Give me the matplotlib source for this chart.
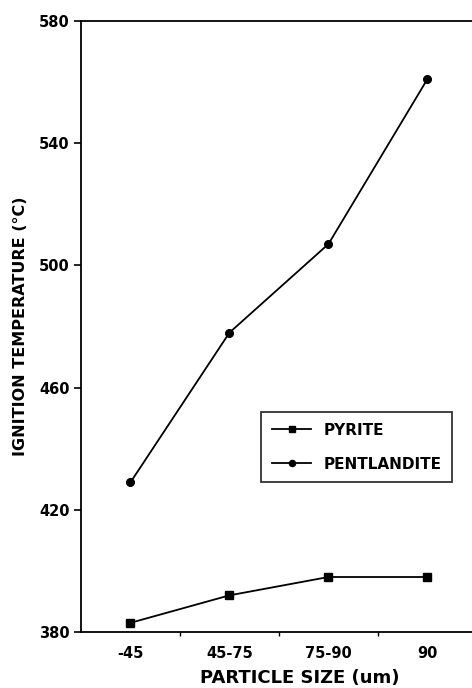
import matplotlib.pyplot as plt

# -----------------------------
# Data
# -----------------------------
sizes = ["-45", "45-75", "75-90", "90"]
pyrite = [383, 392, 398, 398]
pentlandite = [429, 478, 507, 561]

yticks = [380, 420, 460, 500, 540, 580]

plt.rcParams['font.family'] = ['DejaVu Sans']
plt.rcParams['font.weight'] = 'bold'

fig = plt.figure(figsize=(4.72, 6.88), dpi=100)
ax = fig.add_axes([81 / 472, 56 / 688, 391 / 472, 611 / 688])

x = list(range(len(sizes)))
ax.plot(x, pyrite, color='black', lw=1.3, marker='s', ms=5.5, label='PYRITE')
ax.plot(x, pentlandite, color='black', lw=1.3, marker='o', ms=5.5, label='PENTLANDITE')

ax.set_xlim(-0.5, 3.45)
ax.set_ylim(380, 580)

# y axis
ax.set_yticks(yticks)
ax.tick_params(axis='y', direction='out', length=5, width=1.2, labelsize=10.5, pad=3)

# x axis: labels at centres, small ticks between groups
ax.set_xticks(x)
ax.set_xticklabels(sizes)
ax.set_xticks([0.5, 1.5, 2.5], minor=True)
ax.tick_params(axis='x', which='major', length=0, labelsize=10.5, pad=10)
ax.tick_params(axis='x', which='minor', direction='out', length=3, width=1)

for s in ['left', 'top', 'bottom']:
    ax.spines[s].set_linewidth(1.3)
ax.spines['right'].set_visible(False)

ax.set_xlabel("PARTICLE SIZE (um)", fontsize=13, fontweight='bold')
ax.xaxis.set_label_coords(219 / 391, -37 / 611)
ax.set_ylabel("IGNITION TEMPERATURE (\u00b0C)", fontsize=11.5, fontweight='bold', labelpad=8)

leg = ax.legend(loc='upper left', bbox_to_anchor=(261 / 472, 1 - 412 / 688),
                bbox_transform=fig.transFigure, fancybox=False, frameon=True,
                edgecolor='black', prop={'weight': 'bold', 'size': 11},
                handlelength=2.6, handletextpad=0.8, borderpad=0.7,
                labelspacing=1.25, markerscale=0.8, borderaxespad=0)
leg.get_frame().set_linewidth(1.3)

fig.savefig("out.png", dpi=100)
